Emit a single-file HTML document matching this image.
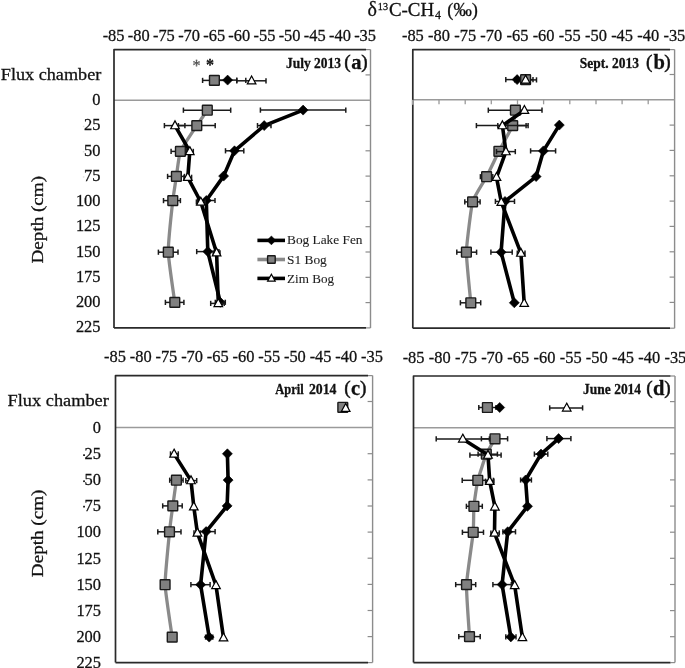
<!DOCTYPE html>
<html><head><meta charset="utf-8"><style>
html,body{margin:0;padding:0;background:#fff;}
body{width:685px;height:668px;overflow:hidden;}
svg{display:block;will-change:transform;}
text{font-family:"Liberation Serif", serif;fill:#111;stroke:#111;stroke-width:0.28px;}
.tk{font-size:16.4px;}
.fc{font-size:17.6px;}
.yt{font-size:17px;}
.ti{font-size:18px;}
.pt{font-size:14px;font-weight:bold;}
.pl{font-size:20.5px;font-weight:bold;}
.pp{font-size:19.3px;font-weight:normal;stroke-width:0.45px;}
.lg{font-size:13.2px;fill:#1e1e1e;stroke-width:0.1px;stroke:#1e1e1e;}
.ast{font-size:16px;font-weight:bold;}
</style></head><body>
<svg width="685" height="668" viewBox="0 0 685 668">
<rect width="100%" height="100%" fill="#fff"/>
<line x1="370.5" y1="49.6" x2="370.5" y2="327.9" stroke="#8c8c8c" stroke-width="1.4"/>
<line x1="366.0" y1="49.6" x2="370.5" y2="49.6" stroke="#8c8c8c" stroke-width="1.2"/>
<line x1="366.0" y1="327.9" x2="370.5" y2="327.9" stroke="#8c8c8c" stroke-width="1.2"/>
<line x1="114.0" y1="100.2" x2="370.5" y2="100.2" stroke="#9a9a9a" stroke-width="1.5"/>
<line x1="365.5" y1="74.9" x2="370.5" y2="74.9" stroke="#8c8c8c" stroke-width="1.2"/>
<line x1="365.5" y1="125.5" x2="370.5" y2="125.5" stroke="#8c8c8c" stroke-width="1.2"/>
<line x1="365.5" y1="150.8" x2="370.5" y2="150.8" stroke="#8c8c8c" stroke-width="1.2"/>
<line x1="365.5" y1="176.1" x2="370.5" y2="176.1" stroke="#8c8c8c" stroke-width="1.2"/>
<line x1="365.5" y1="201.4" x2="370.5" y2="201.4" stroke="#8c8c8c" stroke-width="1.2"/>
<line x1="365.5" y1="226.7" x2="370.5" y2="226.7" stroke="#8c8c8c" stroke-width="1.2"/>
<line x1="365.5" y1="252.0" x2="370.5" y2="252.0" stroke="#8c8c8c" stroke-width="1.2"/>
<line x1="365.5" y1="277.3" x2="370.5" y2="277.3" stroke="#8c8c8c" stroke-width="1.2"/>
<line x1="365.5" y1="302.6" x2="370.5" y2="302.6" stroke="#8c8c8c" stroke-width="1.2"/>
<path d="M114.0,327.9 L114.0,49.6 L366.0,49.6" fill="none" stroke="#2a2a2a" stroke-width="1.7" stroke-linejoin="round"/>
<line x1="114.0" y1="327.9" x2="366.0" y2="327.9" stroke="#2a2a2a" stroke-width="1.7"/>
<line x1="674.6" y1="49.6" x2="674.6" y2="328.2" stroke="#8c8c8c" stroke-width="1.4"/>
<line x1="670.0" y1="49.6" x2="674.6" y2="49.6" stroke="#8c8c8c" stroke-width="1.2"/>
<line x1="670.0" y1="328.2" x2="674.6" y2="328.2" stroke="#8c8c8c" stroke-width="1.2"/>
<line x1="412.8" y1="99.8" x2="674.6" y2="99.8" stroke="#9a9a9a" stroke-width="1.5"/>
<line x1="669.6" y1="74.5" x2="674.6" y2="74.5" stroke="#8c8c8c" stroke-width="1.2"/>
<line x1="669.6" y1="125.1" x2="674.6" y2="125.1" stroke="#8c8c8c" stroke-width="1.2"/>
<line x1="669.6" y1="150.4" x2="674.6" y2="150.4" stroke="#8c8c8c" stroke-width="1.2"/>
<line x1="669.6" y1="175.8" x2="674.6" y2="175.8" stroke="#8c8c8c" stroke-width="1.2"/>
<line x1="669.6" y1="201.1" x2="674.6" y2="201.1" stroke="#8c8c8c" stroke-width="1.2"/>
<line x1="669.6" y1="226.4" x2="674.6" y2="226.4" stroke="#8c8c8c" stroke-width="1.2"/>
<line x1="669.6" y1="251.8" x2="674.6" y2="251.8" stroke="#8c8c8c" stroke-width="1.2"/>
<line x1="669.6" y1="277.1" x2="674.6" y2="277.1" stroke="#8c8c8c" stroke-width="1.2"/>
<line x1="669.6" y1="302.4" x2="674.6" y2="302.4" stroke="#8c8c8c" stroke-width="1.2"/>
<line x1="439.0" y1="99.8" x2="439.0" y2="104.3" stroke="#9a9a9a" stroke-width="1.3"/>
<line x1="465.2" y1="99.8" x2="465.2" y2="104.3" stroke="#9a9a9a" stroke-width="1.3"/>
<line x1="491.3" y1="99.8" x2="491.3" y2="104.3" stroke="#9a9a9a" stroke-width="1.3"/>
<line x1="517.5" y1="99.8" x2="517.5" y2="104.3" stroke="#9a9a9a" stroke-width="1.3"/>
<line x1="543.6" y1="99.8" x2="543.6" y2="104.3" stroke="#9a9a9a" stroke-width="1.3"/>
<line x1="569.8" y1="99.8" x2="569.8" y2="104.3" stroke="#9a9a9a" stroke-width="1.3"/>
<line x1="596.0" y1="99.8" x2="596.0" y2="104.3" stroke="#9a9a9a" stroke-width="1.3"/>
<line x1="622.1" y1="99.8" x2="622.1" y2="104.3" stroke="#9a9a9a" stroke-width="1.3"/>
<line x1="648.2" y1="99.8" x2="648.2" y2="104.3" stroke="#9a9a9a" stroke-width="1.3"/>
<path d="M412.8,328.2 L412.8,49.6 L670.0,49.6" fill="none" stroke="#2a2a2a" stroke-width="1.7" stroke-linejoin="round"/>
<line x1="412.8" y1="328.2" x2="670.0" y2="328.2" stroke="#2a2a2a" stroke-width="1.7"/>
<line x1="412.8" y1="99.8" x2="412.8" y2="104.8" stroke="#a0a0a0" stroke-width="1.9"/>
<line x1="372.6" y1="375.6" x2="372.6" y2="662.6" stroke="#8c8c8c" stroke-width="1.4"/>
<line x1="368.0" y1="375.6" x2="372.6" y2="375.6" stroke="#8c8c8c" stroke-width="1.2"/>
<line x1="368.0" y1="662.6" x2="372.6" y2="662.6" stroke="#8c8c8c" stroke-width="1.2"/>
<line x1="115.5" y1="427.6" x2="372.6" y2="427.6" stroke="#9a9a9a" stroke-width="1.5"/>
<line x1="367.6" y1="401.5" x2="372.6" y2="401.5" stroke="#8c8c8c" stroke-width="1.2"/>
<line x1="367.6" y1="453.7" x2="372.6" y2="453.7" stroke="#8c8c8c" stroke-width="1.2"/>
<line x1="367.6" y1="479.9" x2="372.6" y2="479.9" stroke="#8c8c8c" stroke-width="1.2"/>
<line x1="367.6" y1="506.0" x2="372.6" y2="506.0" stroke="#8c8c8c" stroke-width="1.2"/>
<line x1="367.6" y1="532.1" x2="372.6" y2="532.1" stroke="#8c8c8c" stroke-width="1.2"/>
<line x1="367.6" y1="558.2" x2="372.6" y2="558.2" stroke="#8c8c8c" stroke-width="1.2"/>
<line x1="367.6" y1="584.4" x2="372.6" y2="584.4" stroke="#8c8c8c" stroke-width="1.2"/>
<line x1="367.6" y1="610.5" x2="372.6" y2="610.5" stroke="#8c8c8c" stroke-width="1.2"/>
<line x1="367.6" y1="636.6" x2="372.6" y2="636.6" stroke="#8c8c8c" stroke-width="1.2"/>
<path d="M115.5,662.6 L115.5,375.6 L368.0,375.6" fill="none" stroke="#2a2a2a" stroke-width="1.7" stroke-linejoin="round"/>
<line x1="115.5" y1="662.6" x2="368.0" y2="662.6" stroke="#2a2a2a" stroke-width="1.7"/>
<line x1="675.0" y1="376.0" x2="675.0" y2="662.6" stroke="#8c8c8c" stroke-width="1.4"/>
<line x1="670.5" y1="376.0" x2="675.0" y2="376.0" stroke="#8c8c8c" stroke-width="1.2"/>
<line x1="670.5" y1="662.6" x2="675.0" y2="662.6" stroke="#8c8c8c" stroke-width="1.2"/>
<line x1="413.5" y1="427.7" x2="675.0" y2="427.7" stroke="#9a9a9a" stroke-width="1.5"/>
<line x1="670.0" y1="401.6" x2="675.0" y2="401.6" stroke="#8c8c8c" stroke-width="1.2"/>
<line x1="670.0" y1="453.8" x2="675.0" y2="453.8" stroke="#8c8c8c" stroke-width="1.2"/>
<line x1="670.0" y1="479.9" x2="675.0" y2="479.9" stroke="#8c8c8c" stroke-width="1.2"/>
<line x1="670.0" y1="506.1" x2="675.0" y2="506.1" stroke="#8c8c8c" stroke-width="1.2"/>
<line x1="670.0" y1="532.2" x2="675.0" y2="532.2" stroke="#8c8c8c" stroke-width="1.2"/>
<line x1="670.0" y1="558.3" x2="675.0" y2="558.3" stroke="#8c8c8c" stroke-width="1.2"/>
<line x1="670.0" y1="584.5" x2="675.0" y2="584.5" stroke="#8c8c8c" stroke-width="1.2"/>
<line x1="670.0" y1="610.6" x2="675.0" y2="610.6" stroke="#8c8c8c" stroke-width="1.2"/>
<line x1="670.0" y1="636.7" x2="675.0" y2="636.7" stroke="#8c8c8c" stroke-width="1.2"/>
<path d="M413.5,662.6 L413.5,376.0 L670.5,376.0" fill="none" stroke="#2a2a2a" stroke-width="1.7" stroke-linejoin="round"/>
<line x1="413.5" y1="662.6" x2="670.5" y2="662.6" stroke="#2a2a2a" stroke-width="1.7"/>
<text x="113.6" y="41.0" text-anchor="middle" class="tk">-85</text>
<text x="138.8" y="41.0" text-anchor="middle" class="tk">-80</text>
<text x="163.9" y="41.0" text-anchor="middle" class="tk">-75</text>
<text x="189.1" y="41.0" text-anchor="middle" class="tk">-70</text>
<text x="214.2" y="41.0" text-anchor="middle" class="tk">-65</text>
<text x="239.3" y="41.0" text-anchor="middle" class="tk">-60</text>
<text x="264.5" y="41.0" text-anchor="middle" class="tk">-55</text>
<text x="289.6" y="41.0" text-anchor="middle" class="tk">-50</text>
<text x="314.8" y="41.0" text-anchor="middle" class="tk">-45</text>
<text x="340.0" y="41.0" text-anchor="middle" class="tk">-40</text>
<text x="365.1" y="41.0" text-anchor="middle" class="tk">-35</text>
<text x="412.9" y="41.0" text-anchor="middle" class="tk">-85</text>
<text x="439.0" y="41.0" text-anchor="middle" class="tk">-80</text>
<text x="465.2" y="41.0" text-anchor="middle" class="tk">-75</text>
<text x="491.3" y="41.0" text-anchor="middle" class="tk">-70</text>
<text x="517.5" y="41.0" text-anchor="middle" class="tk">-65</text>
<text x="543.6" y="41.0" text-anchor="middle" class="tk">-60</text>
<text x="569.8" y="41.0" text-anchor="middle" class="tk">-55</text>
<text x="596.0" y="41.0" text-anchor="middle" class="tk">-50</text>
<text x="622.1" y="41.0" text-anchor="middle" class="tk">-45</text>
<text x="648.2" y="41.0" text-anchor="middle" class="tk">-40</text>
<text x="674.4" y="41.0" text-anchor="middle" class="tk">-35</text>
<text x="115.0" y="362.0" text-anchor="middle" class="tk">-85</text>
<text x="140.7" y="362.0" text-anchor="middle" class="tk">-80</text>
<text x="166.4" y="362.0" text-anchor="middle" class="tk">-75</text>
<text x="192.1" y="362.0" text-anchor="middle" class="tk">-70</text>
<text x="217.8" y="362.0" text-anchor="middle" class="tk">-65</text>
<text x="243.5" y="362.0" text-anchor="middle" class="tk">-60</text>
<text x="269.2" y="362.0" text-anchor="middle" class="tk">-55</text>
<text x="294.9" y="362.0" text-anchor="middle" class="tk">-50</text>
<text x="320.6" y="362.0" text-anchor="middle" class="tk">-45</text>
<text x="346.3" y="362.0" text-anchor="middle" class="tk">-40</text>
<text x="372.0" y="362.0" text-anchor="middle" class="tk">-35</text>
<text x="413.6" y="362.6" text-anchor="middle" class="tk">-85</text>
<text x="439.8" y="362.6" text-anchor="middle" class="tk">-80</text>
<text x="466.0" y="362.6" text-anchor="middle" class="tk">-75</text>
<text x="492.1" y="362.6" text-anchor="middle" class="tk">-70</text>
<text x="518.3" y="362.6" text-anchor="middle" class="tk">-65</text>
<text x="544.5" y="362.6" text-anchor="middle" class="tk">-60</text>
<text x="570.7" y="362.6" text-anchor="middle" class="tk">-55</text>
<text x="596.8" y="362.6" text-anchor="middle" class="tk">-50</text>
<text x="623.0" y="362.6" text-anchor="middle" class="tk">-45</text>
<text x="649.2" y="362.6" text-anchor="middle" class="tk">-40</text>
<text x="675.4" y="362.6" text-anchor="middle" class="tk">-35</text>
<text x="100.5" y="105.0" text-anchor="end" class="tk">0</text>
<text x="100.5" y="130.3" text-anchor="end" class="tk">25</text>
<text x="100.5" y="155.5" text-anchor="end" class="tk">50</text>
<text x="100.5" y="180.8" text-anchor="end" class="tk">75</text>
<text x="100.5" y="206.1" text-anchor="end" class="tk">100</text>
<text x="100.5" y="231.3" text-anchor="end" class="tk">125</text>
<text x="100.5" y="256.6" text-anchor="end" class="tk">150</text>
<text x="100.5" y="281.9" text-anchor="end" class="tk">175</text>
<text x="100.5" y="307.1" text-anchor="end" class="tk">200</text>
<text x="100.5" y="332.4" text-anchor="end" class="tk">225</text>
<text x="0.8" y="80.3" class="fc" textLength="100.5" lengthAdjust="spacingAndGlyphs" xml:space="preserve">Flux chamber</text>
<text x="101.0" y="432.9" text-anchor="end" class="tk">0</text>
<text x="101.0" y="459.0" text-anchor="end" class="tk">25</text>
<text x="101.0" y="485.1" text-anchor="end" class="tk">50</text>
<text x="101.0" y="511.3" text-anchor="end" class="tk">75</text>
<text x="101.0" y="537.4" text-anchor="end" class="tk">100</text>
<text x="101.0" y="563.5" text-anchor="end" class="tk">125</text>
<text x="101.0" y="589.6" text-anchor="end" class="tk">150</text>
<text x="101.0" y="615.8" text-anchor="end" class="tk">175</text>
<text x="101.0" y="641.9" text-anchor="end" class="tk">200</text>
<text x="101.0" y="668.0" text-anchor="end" class="tk">225</text>
<text x="7.6" y="406.0" class="fc" textLength="101.2" lengthAdjust="spacingAndGlyphs" xml:space="preserve">Flux chamber</text>
<rect x="83.1" y="454.3" width="1.9" height="1.7" fill="#222"/>
<rect x="83.1" y="480.4" width="1.9" height="1.7" fill="#222"/>
<rect x="83.1" y="505.8" width="1.9" height="1.7" fill="#222"/>
<rect x="82.8" y="125.7" width="1.6" height="1.5" fill="#e0e0e0"/>
<rect x="82.8" y="151.0" width="1.6" height="1.5" fill="#e0e0e0"/>
<rect x="82.8" y="176.2" width="1.6" height="1.5" fill="#e0e0e0"/>
<text transform="translate(43.3,219.7) rotate(-90)" text-anchor="middle" class="yt" textLength="87.5" lengthAdjust="spacingAndGlyphs">Depth (cm)</text>
<text transform="translate(43.3,533.4) rotate(-90)" text-anchor="middle" class="yt" textLength="87.5" lengthAdjust="spacingAndGlyphs">Depth (cm)</text>
<text x="367.4" y="15.7" class="ti" style="font-size:20px" xml:space="preserve">δ</text>
<text x="377.8" y="10.0" class="ti" style="font-size:10.2px" xml:space="preserve">13</text>
<text x="388.9" y="15.7" class="ti" textLength="45.2" lengthAdjust="spacingAndGlyphs" xml:space="preserve">C-CH</text>
<text x="435.0" y="19.1" class="ti" style="font-size:12px" xml:space="preserve">4</text>
<text x="447.3" y="15.7" class="ti" textLength="30.6" lengthAdjust="spacingAndGlyphs" xml:space="preserve">(‰)</text>
<text x="286.0" y="67.7" class="pt" textLength="55.0" lengthAdjust="spacingAndGlyphs" xml:space="preserve">July 2013</text>
<text x="579.8" y="68.0" class="pt" textLength="59.2" lengthAdjust="spacingAndGlyphs" xml:space="preserve">Sept. 2013</text>
<text x="275.3" y="394.1" class="pt" textLength="28.3" lengthAdjust="spacingAndGlyphs" xml:space="preserve">April</text>
<text x="308.9" y="394.1" class="pt" textLength="27.6" lengthAdjust="spacingAndGlyphs" xml:space="preserve">2014</text>
<text x="583.1" y="394.0" class="pt" textLength="58.0" lengthAdjust="spacingAndGlyphs" xml:space="preserve">June 2014</text>
<text x="344.2" y="67.6" class="pp" xml:space="preserve">(</text>
<text x="351.2" y="68.6" class="pl" xml:space="preserve">a</text>
<text x="361.3" y="67.6" class="pp" xml:space="preserve">)</text>
<text x="646.0" y="67.6" class="pp" xml:space="preserve">(</text>
<text x="653.6" y="68.9" class="pl" xml:space="preserve">b</text>
<text x="664.3" y="67.6" class="pp" xml:space="preserve">)</text>
<text x="344.2" y="393.8" class="pp" xml:space="preserve">(</text>
<text x="350.9" y="395.0" class="pl" xml:space="preserve">c</text>
<text x="359.9" y="393.8" class="pp" xml:space="preserve">)</text>
<text x="646.3" y="393.8" class="pp" xml:space="preserve">(</text>
<text x="653.0" y="395.0" class="pl" xml:space="preserve">d</text>
<text x="664.3" y="393.8" class="pp" xml:space="preserve">)</text>
<text x="196.5" y="70.5" class="ast" text-anchor="middle" style="fill:#8f8f8f;font-weight:normal" xml:space="preserve">*</text>
<text x="209.9" y="69.5" class="ast" text-anchor="middle" style="fill:#111" xml:space="preserve">*</text>
<path d="M303.1,110.1 L264.2,125.6 L234.5,150.8 L223.6,176.1 L206.3,200.5 L207.8,251.6 L220.3,302.3" fill="none" stroke="#000" stroke-width="3.6" stroke-linejoin="round" stroke-linecap="butt"/>
<line x1="260.4" y1="110.1" x2="345.8" y2="110.1" stroke="#1a1a1a" stroke-width="1.5"/><line x1="260.4" y1="107.5" x2="260.4" y2="112.7" stroke="#1a1a1a" stroke-width="1.5"/><line x1="345.8" y1="107.5" x2="345.8" y2="112.7" stroke="#1a1a1a" stroke-width="1.5"/>
<line x1="257.5" y1="125.6" x2="271.0" y2="125.6" stroke="#1a1a1a" stroke-width="1.5"/><line x1="257.5" y1="123.0" x2="257.5" y2="128.2" stroke="#1a1a1a" stroke-width="1.5"/><line x1="271.0" y1="123.0" x2="271.0" y2="128.2" stroke="#1a1a1a" stroke-width="1.5"/>
<line x1="225.5" y1="150.8" x2="243.8" y2="150.8" stroke="#1a1a1a" stroke-width="1.5"/><line x1="225.5" y1="148.2" x2="225.5" y2="153.4" stroke="#1a1a1a" stroke-width="1.5"/><line x1="243.8" y1="148.2" x2="243.8" y2="153.4" stroke="#1a1a1a" stroke-width="1.5"/>
<line x1="197.6" y1="200.5" x2="215.0" y2="200.5" stroke="#1a1a1a" stroke-width="1.5"/><line x1="197.6" y1="197.9" x2="197.6" y2="203.1" stroke="#1a1a1a" stroke-width="1.5"/><line x1="215.0" y1="197.9" x2="215.0" y2="203.1" stroke="#1a1a1a" stroke-width="1.5"/>
<line x1="196.7" y1="251.6" x2="218.9" y2="251.6" stroke="#1a1a1a" stroke-width="1.5"/><line x1="196.7" y1="249.0" x2="196.7" y2="254.2" stroke="#1a1a1a" stroke-width="1.5"/><line x1="218.9" y1="249.0" x2="218.9" y2="254.2" stroke="#1a1a1a" stroke-width="1.5"/>
<line x1="215.3" y1="302.3" x2="225.3" y2="302.3" stroke="#1a1a1a" stroke-width="1.5"/><line x1="215.3" y1="299.7" x2="215.3" y2="304.9" stroke="#1a1a1a" stroke-width="1.5"/><line x1="225.3" y1="299.7" x2="225.3" y2="304.9" stroke="#1a1a1a" stroke-width="1.5"/>
<path d="M303.1,105.1 L308.1,110.1 L303.1,115.1 L298.1,110.1 Z" fill="#000" stroke="#000" stroke-width="0.6"/>
<path d="M264.2,120.6 L269.2,125.6 L264.2,130.6 L259.2,125.6 Z" fill="#000" stroke="#000" stroke-width="0.6"/>
<path d="M234.5,145.8 L239.5,150.8 L234.5,155.8 L229.5,150.8 Z" fill="#000" stroke="#000" stroke-width="0.6"/>
<path d="M223.6,171.1 L228.6,176.1 L223.6,181.1 L218.6,176.1 Z" fill="#000" stroke="#000" stroke-width="0.6"/>
<path d="M206.3,195.5 L211.3,200.5 L206.3,205.5 L201.3,200.5 Z" fill="#000" stroke="#000" stroke-width="0.6"/>
<path d="M207.8,246.6 L212.8,251.6 L207.8,256.6 L202.8,251.6 Z" fill="#000" stroke="#000" stroke-width="0.6"/>
<path d="M220.3,297.3 L225.3,302.3 L220.3,307.3 L215.3,302.3 Z" fill="#000" stroke="#000" stroke-width="0.6"/>
<path d="M207.3,110.2 C206.6,111.3 198.7,122.7 196.8,125.6 C194.9,128.5 181.8,147.8 180.4,151.4 C179.0,155.0 176.9,173.0 176.4,176.4 C175.9,179.8 173.4,195.3 172.8,200.6 C172.2,205.9 168.2,245.1 168.3,252.2 C168.4,259.3 174.3,298.9 174.8,302.4" fill="none" stroke="#8a8a8a" stroke-width="3.3" stroke-linecap="butt"/>
<line x1="183.4" y1="110.2" x2="230.7" y2="110.2" stroke="#1a1a1a" stroke-width="1.5"/><line x1="183.4" y1="107.6" x2="183.4" y2="112.8" stroke="#1a1a1a" stroke-width="1.5"/><line x1="230.7" y1="107.6" x2="230.7" y2="112.8" stroke="#1a1a1a" stroke-width="1.5"/>
<line x1="178.4" y1="125.6" x2="215.2" y2="125.6" stroke="#1a1a1a" stroke-width="1.5"/><line x1="178.4" y1="123.0" x2="178.4" y2="128.2" stroke="#1a1a1a" stroke-width="1.5"/><line x1="215.2" y1="123.0" x2="215.2" y2="128.2" stroke="#1a1a1a" stroke-width="1.5"/>
<line x1="171.1" y1="151.4" x2="189.7" y2="151.4" stroke="#1a1a1a" stroke-width="1.5"/><line x1="171.1" y1="148.8" x2="171.1" y2="154.0" stroke="#1a1a1a" stroke-width="1.5"/><line x1="189.7" y1="148.8" x2="189.7" y2="154.0" stroke="#1a1a1a" stroke-width="1.5"/>
<line x1="167.6" y1="176.4" x2="184.5" y2="176.4" stroke="#1a1a1a" stroke-width="1.5"/><line x1="167.6" y1="173.8" x2="167.6" y2="179.0" stroke="#1a1a1a" stroke-width="1.5"/><line x1="184.5" y1="173.8" x2="184.5" y2="179.0" stroke="#1a1a1a" stroke-width="1.5"/>
<line x1="163.5" y1="200.6" x2="180.4" y2="200.6" stroke="#1a1a1a" stroke-width="1.5"/><line x1="163.5" y1="198.0" x2="163.5" y2="203.2" stroke="#1a1a1a" stroke-width="1.5"/><line x1="180.4" y1="198.0" x2="180.4" y2="203.2" stroke="#1a1a1a" stroke-width="1.5"/>
<line x1="158.4" y1="252.2" x2="178.0" y2="252.2" stroke="#1a1a1a" stroke-width="1.5"/><line x1="158.4" y1="249.6" x2="158.4" y2="254.8" stroke="#1a1a1a" stroke-width="1.5"/><line x1="178.0" y1="249.6" x2="178.0" y2="254.8" stroke="#1a1a1a" stroke-width="1.5"/>
<line x1="165.4" y1="302.4" x2="183.9" y2="302.4" stroke="#1a1a1a" stroke-width="1.5"/><line x1="165.4" y1="299.8" x2="165.4" y2="305.0" stroke="#1a1a1a" stroke-width="1.5"/><line x1="183.9" y1="299.8" x2="183.9" y2="305.0" stroke="#1a1a1a" stroke-width="1.5"/>
<rect x="202.4" y="105.3" width="9.8" height="9.8" rx="0.5" fill="#808080" stroke="#1a1a1a" stroke-width="1.4"/>
<rect x="191.9" y="120.7" width="9.8" height="9.8" rx="0.5" fill="#808080" stroke="#1a1a1a" stroke-width="1.4"/>
<rect x="175.5" y="146.5" width="9.8" height="9.8" rx="0.5" fill="#808080" stroke="#1a1a1a" stroke-width="1.4"/>
<rect x="171.5" y="171.5" width="9.8" height="9.8" rx="0.5" fill="#808080" stroke="#1a1a1a" stroke-width="1.4"/>
<rect x="167.9" y="195.7" width="9.8" height="9.8" rx="0.5" fill="#808080" stroke="#1a1a1a" stroke-width="1.4"/>
<rect x="163.4" y="247.3" width="9.8" height="9.8" rx="0.5" fill="#808080" stroke="#1a1a1a" stroke-width="1.4"/>
<rect x="169.9" y="297.5" width="9.8" height="9.8" rx="0.5" fill="#808080" stroke="#1a1a1a" stroke-width="1.4"/>
<path d="M175.0,125.6 L189.8,151.4 L187.8,177.3 L200.8,202.0 L216.6,252.8 L218.3,303.4" fill="none" stroke="#000" stroke-width="3.6" stroke-linejoin="round" stroke-linecap="butt"/>
<line x1="164.4" y1="125.6" x2="184.9" y2="125.6" stroke="#1a1a1a" stroke-width="1.5"/><line x1="164.4" y1="123.0" x2="164.4" y2="128.2" stroke="#1a1a1a" stroke-width="1.5"/><line x1="184.9" y1="123.0" x2="184.9" y2="128.2" stroke="#1a1a1a" stroke-width="1.5"/>
<line x1="186.4" y1="151.4" x2="193.3" y2="151.4" stroke="#1a1a1a" stroke-width="1.5"/><line x1="186.4" y1="148.8" x2="186.4" y2="154.0" stroke="#1a1a1a" stroke-width="1.5"/><line x1="193.3" y1="148.8" x2="193.3" y2="154.0" stroke="#1a1a1a" stroke-width="1.5"/>
<line x1="184.0" y1="177.3" x2="191.6" y2="177.3" stroke="#1a1a1a" stroke-width="1.5"/><line x1="184.0" y1="174.7" x2="184.0" y2="179.9" stroke="#1a1a1a" stroke-width="1.5"/><line x1="191.6" y1="174.7" x2="191.6" y2="179.9" stroke="#1a1a1a" stroke-width="1.5"/>
<line x1="196.4" y1="202.0" x2="205.2" y2="202.0" stroke="#1a1a1a" stroke-width="1.5"/><line x1="196.4" y1="199.4" x2="196.4" y2="204.6" stroke="#1a1a1a" stroke-width="1.5"/><line x1="205.2" y1="199.4" x2="205.2" y2="204.6" stroke="#1a1a1a" stroke-width="1.5"/>
<line x1="213.2" y1="252.8" x2="220.0" y2="252.8" stroke="#1a1a1a" stroke-width="1.5"/><line x1="213.2" y1="250.2" x2="213.2" y2="255.4" stroke="#1a1a1a" stroke-width="1.5"/><line x1="220.0" y1="250.2" x2="220.0" y2="255.4" stroke="#1a1a1a" stroke-width="1.5"/>
<line x1="210.7" y1="303.4" x2="224.2" y2="303.4" stroke="#1a1a1a" stroke-width="1.5"/><line x1="210.7" y1="300.8" x2="210.7" y2="306.0" stroke="#1a1a1a" stroke-width="1.5"/><line x1="224.2" y1="300.8" x2="224.2" y2="306.0" stroke="#1a1a1a" stroke-width="1.5"/>
<path d="M175.0,120.86 L179.30,128.76 L170.70,128.76 Z" fill="#fff" stroke="#000" stroke-width="1.2" stroke-linejoin="miter"/>
<path d="M189.8,146.66 L194.10,154.56 L185.50,154.56 Z" fill="#fff" stroke="#000" stroke-width="1.2" stroke-linejoin="miter"/>
<path d="M187.8,172.56 L192.10,180.46 L183.50,180.46 Z" fill="#fff" stroke="#000" stroke-width="1.2" stroke-linejoin="miter"/>
<path d="M200.8,197.26 L205.10,205.16 L196.50,205.16 Z" fill="#fff" stroke="#000" stroke-width="1.2" stroke-linejoin="miter"/>
<path d="M216.6,248.06 L220.90,255.96 L212.30,255.96 Z" fill="#fff" stroke="#000" stroke-width="1.2" stroke-linejoin="miter"/>
<path d="M218.3,298.66 L222.60,306.56 L214.00,306.56 Z" fill="#fff" stroke="#000" stroke-width="1.2" stroke-linejoin="miter"/>
<line x1="218.4" y1="80.1" x2="236.8" y2="80.1" stroke="#1a1a1a" stroke-width="1.5"/><line x1="218.4" y1="77.5" x2="218.4" y2="82.7" stroke="#1a1a1a" stroke-width="1.5"/><line x1="236.8" y1="77.5" x2="236.8" y2="82.7" stroke="#1a1a1a" stroke-width="1.5"/>
<line x1="202.6" y1="80.4" x2="226.2" y2="80.4" stroke="#1a1a1a" stroke-width="1.5"/><line x1="202.6" y1="77.8" x2="202.6" y2="83.0" stroke="#1a1a1a" stroke-width="1.5"/><line x1="226.2" y1="77.8" x2="226.2" y2="83.0" stroke="#1a1a1a" stroke-width="1.5"/>
<line x1="236.8" y1="80.8" x2="266.0" y2="80.8" stroke="#1a1a1a" stroke-width="1.5"/><line x1="236.8" y1="78.2" x2="236.8" y2="83.4" stroke="#1a1a1a" stroke-width="1.5"/><line x1="266.0" y1="78.2" x2="266.0" y2="83.4" stroke="#1a1a1a" stroke-width="1.5"/>
<path d="M227.6,75.1 L232.6,80.1 L227.6,85.1 L222.6,80.1 Z" fill="#000" stroke="#000" stroke-width="0.6"/>
<rect x="209.5" y="75.5" width="9.8" height="9.8" rx="0.5" fill="#808080" stroke="#1a1a1a" stroke-width="1.4"/>
<path d="M251.6,76.06 L255.90,83.96 L247.30,83.96 Z" fill="#fff" stroke="#000" stroke-width="1.2" stroke-linejoin="miter"/>
<line x1="245.8" y1="77.7" x2="245.8" y2="82.89999999999999" stroke="#1a1a1a" stroke-width="1.5"/>
<path d="M559.3,125.1 L543.4,150.9 L536.1,176.6 L505.0,201.4 L501.1,252.2 L514.3,302.8" fill="none" stroke="#000" stroke-width="3.6" stroke-linejoin="round" stroke-linecap="butt"/>
<line x1="530.6" y1="150.9" x2="555.6" y2="150.9" stroke="#1a1a1a" stroke-width="1.5"/><line x1="530.6" y1="148.3" x2="530.6" y2="153.5" stroke="#1a1a1a" stroke-width="1.5"/><line x1="555.6" y1="148.3" x2="555.6" y2="153.5" stroke="#1a1a1a" stroke-width="1.5"/>
<line x1="495.4" y1="201.4" x2="514.5" y2="201.4" stroke="#1a1a1a" stroke-width="1.5"/><line x1="495.4" y1="198.8" x2="495.4" y2="204.0" stroke="#1a1a1a" stroke-width="1.5"/><line x1="514.5" y1="198.8" x2="514.5" y2="204.0" stroke="#1a1a1a" stroke-width="1.5"/>
<line x1="490.9" y1="252.2" x2="512.2" y2="252.2" stroke="#1a1a1a" stroke-width="1.5"/><line x1="490.9" y1="249.6" x2="490.9" y2="254.8" stroke="#1a1a1a" stroke-width="1.5"/><line x1="512.2" y1="249.6" x2="512.2" y2="254.8" stroke="#1a1a1a" stroke-width="1.5"/>
<path d="M559.3,120.1 L564.3,125.1 L559.3,130.1 L554.3,125.1 Z" fill="#000" stroke="#000" stroke-width="0.6"/>
<path d="M543.4,145.9 L548.4,150.9 L543.4,155.9 L538.4,150.9 Z" fill="#000" stroke="#000" stroke-width="0.6"/>
<path d="M536.1,171.6 L541.1,176.6 L536.1,181.6 L531.1,176.6 Z" fill="#000" stroke="#000" stroke-width="0.6"/>
<path d="M505.0,196.4 L510.0,201.4 L505.0,206.4 L500.0,201.4 Z" fill="#000" stroke="#000" stroke-width="0.6"/>
<path d="M501.1,247.2 L506.1,252.2 L501.1,257.2 L496.1,252.2 Z" fill="#000" stroke="#000" stroke-width="0.6"/>
<path d="M514.3,297.8 L519.3,302.8 L514.3,307.8 L509.3,302.8 Z" fill="#000" stroke="#000" stroke-width="0.6"/>
<path d="M515.4,110.2 C515.2,111.3 513.9,122.7 512.7,125.6 C511.5,128.5 500.7,147.7 498.9,151.3 C497.1,154.9 488.4,173.2 486.6,176.7 C484.8,180.2 474.0,196.6 472.6,201.9 C471.2,207.2 466.5,245.1 466.4,252.2 C466.3,259.3 470.5,299.3 470.8,302.8" fill="none" stroke="#8a8a8a" stroke-width="3.3" stroke-linecap="butt"/>
<line x1="488.3" y1="110.2" x2="542.0" y2="110.2" stroke="#1a1a1a" stroke-width="1.5"/><line x1="488.3" y1="107.6" x2="488.3" y2="112.8" stroke="#1a1a1a" stroke-width="1.5"/><line x1="542.0" y1="107.6" x2="542.0" y2="112.8" stroke="#1a1a1a" stroke-width="1.5"/>
<line x1="497.8" y1="125.6" x2="526.1" y2="125.6" stroke="#1a1a1a" stroke-width="1.5"/><line x1="497.8" y1="123.0" x2="497.8" y2="128.2" stroke="#1a1a1a" stroke-width="1.5"/><line x1="526.1" y1="123.0" x2="526.1" y2="128.2" stroke="#1a1a1a" stroke-width="1.5"/>
<line x1="480.4" y1="176.7" x2="492.8" y2="176.7" stroke="#1a1a1a" stroke-width="1.5"/><line x1="480.4" y1="174.1" x2="480.4" y2="179.3" stroke="#1a1a1a" stroke-width="1.5"/><line x1="492.8" y1="174.1" x2="492.8" y2="179.3" stroke="#1a1a1a" stroke-width="1.5"/>
<line x1="464.8" y1="201.9" x2="480.1" y2="201.9" stroke="#1a1a1a" stroke-width="1.5"/><line x1="464.8" y1="199.3" x2="464.8" y2="204.5" stroke="#1a1a1a" stroke-width="1.5"/><line x1="480.1" y1="199.3" x2="480.1" y2="204.5" stroke="#1a1a1a" stroke-width="1.5"/>
<line x1="456.8" y1="252.2" x2="476.6" y2="252.2" stroke="#1a1a1a" stroke-width="1.5"/><line x1="456.8" y1="249.6" x2="456.8" y2="254.8" stroke="#1a1a1a" stroke-width="1.5"/><line x1="476.6" y1="249.6" x2="476.6" y2="254.8" stroke="#1a1a1a" stroke-width="1.5"/>
<line x1="460.4" y1="302.8" x2="480.7" y2="302.8" stroke="#1a1a1a" stroke-width="1.5"/><line x1="460.4" y1="300.2" x2="460.4" y2="305.4" stroke="#1a1a1a" stroke-width="1.5"/><line x1="480.7" y1="300.2" x2="480.7" y2="305.4" stroke="#1a1a1a" stroke-width="1.5"/>
<rect x="510.5" y="105.3" width="9.8" height="9.8" rx="0.5" fill="#808080" stroke="#1a1a1a" stroke-width="1.4"/>
<rect x="507.8" y="120.7" width="9.8" height="9.8" rx="0.5" fill="#808080" stroke="#1a1a1a" stroke-width="1.4"/>
<rect x="494.0" y="146.4" width="9.8" height="9.8" rx="0.5" fill="#808080" stroke="#1a1a1a" stroke-width="1.4"/>
<rect x="481.7" y="171.8" width="9.8" height="9.8" rx="0.5" fill="#808080" stroke="#1a1a1a" stroke-width="1.4"/>
<rect x="467.7" y="197.0" width="9.8" height="9.8" rx="0.5" fill="#808080" stroke="#1a1a1a" stroke-width="1.4"/>
<rect x="461.5" y="247.3" width="9.8" height="9.8" rx="0.5" fill="#808080" stroke="#1a1a1a" stroke-width="1.4"/>
<rect x="465.9" y="297.9" width="9.8" height="9.8" rx="0.5" fill="#808080" stroke="#1a1a1a" stroke-width="1.4"/>
<path d="M524.4,110.2 L502.4,125.6 L505.9,151.6 L496.5,177.3 L501.3,202.2 L520.9,253.1 L524.2,303.3" fill="none" stroke="#000" stroke-width="3.6" stroke-linejoin="round" stroke-linecap="butt"/>
<line x1="476.4" y1="125.6" x2="528.1" y2="125.6" stroke="#1a1a1a" stroke-width="1.5"/><line x1="476.4" y1="123.0" x2="476.4" y2="128.2" stroke="#1a1a1a" stroke-width="1.5"/><line x1="528.1" y1="123.0" x2="528.1" y2="128.2" stroke="#1a1a1a" stroke-width="1.5"/>
<line x1="496.5" y1="151.6" x2="515.3" y2="151.6" stroke="#1a1a1a" stroke-width="1.5"/><line x1="496.5" y1="149.0" x2="496.5" y2="154.2" stroke="#1a1a1a" stroke-width="1.5"/><line x1="515.3" y1="149.0" x2="515.3" y2="154.2" stroke="#1a1a1a" stroke-width="1.5"/>
<line x1="517.3" y1="253.1" x2="525.0" y2="253.1" stroke="#1a1a1a" stroke-width="1.5"/><line x1="517.3" y1="250.5" x2="517.3" y2="255.7" stroke="#1a1a1a" stroke-width="1.5"/><line x1="525.0" y1="250.5" x2="525.0" y2="255.7" stroke="#1a1a1a" stroke-width="1.5"/>
<path d="M524.4,105.46 L528.70,113.36 L520.10,113.36 Z" fill="#fff" stroke="#000" stroke-width="1.2" stroke-linejoin="miter"/>
<path d="M502.4,120.86 L506.70,128.76 L498.10,128.76 Z" fill="#fff" stroke="#000" stroke-width="1.2" stroke-linejoin="miter"/>
<path d="M505.9,146.86 L510.20,154.76 L501.60,154.76 Z" fill="#fff" stroke="#000" stroke-width="1.2" stroke-linejoin="miter"/>
<path d="M496.5,172.56 L500.80,180.46 L492.20,180.46 Z" fill="#fff" stroke="#000" stroke-width="1.2" stroke-linejoin="miter"/>
<path d="M501.3,197.46 L505.60,205.36 L497.00,205.36 Z" fill="#fff" stroke="#000" stroke-width="1.2" stroke-linejoin="miter"/>
<path d="M520.9,248.36 L525.20,256.26 L516.60,256.26 Z" fill="#fff" stroke="#000" stroke-width="1.2" stroke-linejoin="miter"/>
<path d="M524.2,298.56 L528.50,306.46 L519.90,306.46 Z" fill="#fff" stroke="#000" stroke-width="1.2" stroke-linejoin="miter"/>
<line x1="505.8" y1="79.6" x2="528.4" y2="79.6" stroke="#1a1a1a" stroke-width="1.5"/><line x1="505.8" y1="77.0" x2="505.8" y2="82.2" stroke="#1a1a1a" stroke-width="1.5"/><line x1="528.4" y1="77.0" x2="528.4" y2="82.2" stroke="#1a1a1a" stroke-width="1.5"/>
<line x1="518.2" y1="79.6" x2="533.0" y2="79.6" stroke="#1a1a1a" stroke-width="1.5"/><line x1="518.2" y1="77.0" x2="518.2" y2="82.2" stroke="#1a1a1a" stroke-width="1.5"/><line x1="533.0" y1="77.0" x2="533.0" y2="82.2" stroke="#1a1a1a" stroke-width="1.5"/>
<line x1="514.7" y1="79.9" x2="536.5" y2="79.9" stroke="#1a1a1a" stroke-width="1.5"/><line x1="514.7" y1="77.3" x2="514.7" y2="82.5" stroke="#1a1a1a" stroke-width="1.5"/><line x1="536.5" y1="77.3" x2="536.5" y2="82.5" stroke="#1a1a1a" stroke-width="1.5"/>
<path d="M517.1,74.6 L522.1,79.6 L517.1,84.6 L512.1,79.6 Z" fill="#000" stroke="#000" stroke-width="0.6"/>
<rect x="520.7" y="74.7" width="9.8" height="9.8" rx="0.5" fill="#808080" stroke="#1a1a1a" stroke-width="1.4"/>
<path d="M525.6,75.16 L529.90,83.06 L521.30,83.06 Z" fill="#fff" stroke="#000" stroke-width="1.2" stroke-linejoin="miter"/>
<path d="M227.4,453.8 L228.1,480.1 L227.1,505.9 L206.1,531.6 L200.6,584.7 L209.2,637.1" fill="none" stroke="#000" stroke-width="3.6" stroke-linejoin="round" stroke-linecap="butt"/>
<line x1="197.1" y1="531.6" x2="215.1" y2="531.6" stroke="#1a1a1a" stroke-width="1.5"/><line x1="197.1" y1="529.0" x2="197.1" y2="534.2" stroke="#1a1a1a" stroke-width="1.5"/><line x1="215.1" y1="529.0" x2="215.1" y2="534.2" stroke="#1a1a1a" stroke-width="1.5"/>
<line x1="190.9" y1="584.7" x2="210.1" y2="584.7" stroke="#1a1a1a" stroke-width="1.5"/><line x1="190.9" y1="582.1" x2="190.9" y2="587.3" stroke="#1a1a1a" stroke-width="1.5"/><line x1="210.1" y1="582.1" x2="210.1" y2="587.3" stroke="#1a1a1a" stroke-width="1.5"/>
<line x1="205.6" y1="637.1" x2="212.8" y2="637.1" stroke="#1a1a1a" stroke-width="1.5"/><line x1="205.6" y1="634.5" x2="205.6" y2="639.7" stroke="#1a1a1a" stroke-width="1.5"/><line x1="212.8" y1="634.5" x2="212.8" y2="639.7" stroke="#1a1a1a" stroke-width="1.5"/>
<path d="M227.4,448.8 L232.4,453.8 L227.4,458.8 L222.4,453.8 Z" fill="#000" stroke="#000" stroke-width="0.6"/>
<path d="M228.1,475.1 L233.1,480.1 L228.1,485.1 L223.1,480.1 Z" fill="#000" stroke="#000" stroke-width="0.6"/>
<path d="M227.1,500.9 L232.1,505.9 L227.1,510.9 L222.1,505.9 Z" fill="#000" stroke="#000" stroke-width="0.6"/>
<path d="M206.1,526.6 L211.1,531.6 L206.1,536.6 L201.1,531.6 Z" fill="#000" stroke="#000" stroke-width="0.6"/>
<path d="M200.6,579.7 L205.6,584.7 L200.6,589.7 L195.6,584.7 Z" fill="#000" stroke="#000" stroke-width="0.6"/>
<path d="M209.2,632.1 L214.2,637.1 L209.2,642.1 L204.2,637.1 Z" fill="#000" stroke="#000" stroke-width="0.6"/>
<path d="M176.4,480.2 C176.1,482.0 173.3,502.3 172.8,505.9 C172.3,509.5 170.0,526.3 169.5,531.8 C169.0,537.3 164.9,577.3 165.1,584.7 C165.3,592.1 171.7,633.4 172.2,637.1" fill="none" stroke="#8a8a8a" stroke-width="3.3" stroke-linecap="butt"/>
<line x1="169.7" y1="480.2" x2="183.1" y2="480.2" stroke="#1a1a1a" stroke-width="1.5"/><line x1="169.7" y1="477.6" x2="169.7" y2="482.8" stroke="#1a1a1a" stroke-width="1.5"/><line x1="183.1" y1="477.6" x2="183.1" y2="482.8" stroke="#1a1a1a" stroke-width="1.5"/>
<line x1="162.7" y1="505.9" x2="182.2" y2="505.9" stroke="#1a1a1a" stroke-width="1.5"/><line x1="162.7" y1="503.3" x2="162.7" y2="508.5" stroke="#1a1a1a" stroke-width="1.5"/><line x1="182.2" y1="503.3" x2="182.2" y2="508.5" stroke="#1a1a1a" stroke-width="1.5"/>
<line x1="157.8" y1="531.8" x2="181.0" y2="531.8" stroke="#1a1a1a" stroke-width="1.5"/><line x1="157.8" y1="529.2" x2="157.8" y2="534.4" stroke="#1a1a1a" stroke-width="1.5"/><line x1="181.0" y1="529.2" x2="181.0" y2="534.4" stroke="#1a1a1a" stroke-width="1.5"/>
<rect x="171.5" y="475.3" width="9.8" height="9.8" rx="0.5" fill="#808080" stroke="#1a1a1a" stroke-width="1.4"/>
<rect x="167.9" y="501.0" width="9.8" height="9.8" rx="0.5" fill="#808080" stroke="#1a1a1a" stroke-width="1.4"/>
<rect x="164.6" y="526.9" width="9.8" height="9.8" rx="0.5" fill="#808080" stroke="#1a1a1a" stroke-width="1.4"/>
<rect x="160.2" y="579.8" width="9.8" height="9.8" rx="0.5" fill="#808080" stroke="#1a1a1a" stroke-width="1.4"/>
<rect x="167.3" y="632.2" width="9.8" height="9.8" rx="0.5" fill="#808080" stroke="#1a1a1a" stroke-width="1.4"/>
<path d="M174.1,453.9 L191.0,480.6 L193.8,506.8 L197.4,532.9 L216.0,585.4 L223.5,637.8" fill="none" stroke="#000" stroke-width="3.6" stroke-linejoin="round" stroke-linecap="butt"/>
<line x1="170.5" y1="453.9" x2="178.3" y2="453.9" stroke="#1a1a1a" stroke-width="1.5"/><line x1="170.5" y1="451.3" x2="170.5" y2="456.5" stroke="#1a1a1a" stroke-width="1.5"/><line x1="178.3" y1="451.3" x2="178.3" y2="456.5" stroke="#1a1a1a" stroke-width="1.5"/>
<line x1="185.8" y1="480.6" x2="196.7" y2="480.6" stroke="#1a1a1a" stroke-width="1.5"/><line x1="185.8" y1="478.0" x2="185.8" y2="483.2" stroke="#1a1a1a" stroke-width="1.5"/><line x1="196.7" y1="478.0" x2="196.7" y2="483.2" stroke="#1a1a1a" stroke-width="1.5"/>
<line x1="194.0" y1="532.9" x2="200.3" y2="532.9" stroke="#1a1a1a" stroke-width="1.5"/><line x1="194.0" y1="530.3" x2="194.0" y2="535.5" stroke="#1a1a1a" stroke-width="1.5"/><line x1="200.3" y1="530.3" x2="200.3" y2="535.5" stroke="#1a1a1a" stroke-width="1.5"/>
<path d="M174.1,449.16 L178.40,457.06 L169.80,457.06 Z" fill="#fff" stroke="#000" stroke-width="1.2" stroke-linejoin="miter"/>
<path d="M191.0,475.86 L195.30,483.76 L186.70,483.76 Z" fill="#fff" stroke="#000" stroke-width="1.2" stroke-linejoin="miter"/>
<path d="M193.8,502.06 L198.10,509.96 L189.50,509.96 Z" fill="#fff" stroke="#000" stroke-width="1.2" stroke-linejoin="miter"/>
<path d="M197.4,528.16 L201.70,536.06 L193.10,536.06 Z" fill="#fff" stroke="#000" stroke-width="1.2" stroke-linejoin="miter"/>
<path d="M216.0,580.66 L220.30,588.56 L211.70,588.56 Z" fill="#fff" stroke="#000" stroke-width="1.2" stroke-linejoin="miter"/>
<path d="M223.5,633.06 L227.80,640.96 L219.20,640.96 Z" fill="#fff" stroke="#000" stroke-width="1.2" stroke-linejoin="miter"/>
<rect x="337.9" y="402.4" width="9.8" height="9.8" rx="0.5" fill="#808080" stroke="#1a1a1a" stroke-width="1.4"/>
<path d="M345.7,403.56 L350.00,411.46 L341.40,411.46 Z" fill="#fff" stroke="#000" stroke-width="1.2" stroke-linejoin="miter"/>
<path d="M558.6,438.6 L541.0,454.1 L525.6,480.0 L527.5,506.3 L507.7,531.8 L502.1,584.6 L510.8,636.9" fill="none" stroke="#000" stroke-width="3.6" stroke-linejoin="round" stroke-linecap="butt"/>
<line x1="546.9" y1="438.6" x2="570.9" y2="438.6" stroke="#1a1a1a" stroke-width="1.5"/><line x1="546.9" y1="436.0" x2="546.9" y2="441.2" stroke="#1a1a1a" stroke-width="1.5"/><line x1="570.9" y1="436.0" x2="570.9" y2="441.2" stroke="#1a1a1a" stroke-width="1.5"/>
<line x1="534.4" y1="454.1" x2="547.8" y2="454.1" stroke="#1a1a1a" stroke-width="1.5"/><line x1="534.4" y1="451.5" x2="534.4" y2="456.7" stroke="#1a1a1a" stroke-width="1.5"/><line x1="547.8" y1="451.5" x2="547.8" y2="456.7" stroke="#1a1a1a" stroke-width="1.5"/>
<line x1="520.6" y1="480.0" x2="531.4" y2="480.0" stroke="#1a1a1a" stroke-width="1.5"/><line x1="520.6" y1="477.4" x2="520.6" y2="482.6" stroke="#1a1a1a" stroke-width="1.5"/><line x1="531.4" y1="477.4" x2="531.4" y2="482.6" stroke="#1a1a1a" stroke-width="1.5"/>
<line x1="502.9" y1="531.8" x2="515.5" y2="531.8" stroke="#1a1a1a" stroke-width="1.5"/><line x1="502.9" y1="529.2" x2="502.9" y2="534.4" stroke="#1a1a1a" stroke-width="1.5"/><line x1="515.5" y1="529.2" x2="515.5" y2="534.4" stroke="#1a1a1a" stroke-width="1.5"/>
<line x1="492.9" y1="584.6" x2="511.3" y2="584.6" stroke="#1a1a1a" stroke-width="1.5"/><line x1="492.9" y1="582.0" x2="492.9" y2="587.2" stroke="#1a1a1a" stroke-width="1.5"/><line x1="511.3" y1="582.0" x2="511.3" y2="587.2" stroke="#1a1a1a" stroke-width="1.5"/>
<line x1="505.8" y1="636.9" x2="516.0" y2="636.9" stroke="#1a1a1a" stroke-width="1.5"/><line x1="505.8" y1="634.3" x2="505.8" y2="639.5" stroke="#1a1a1a" stroke-width="1.5"/><line x1="516.0" y1="634.3" x2="516.0" y2="639.5" stroke="#1a1a1a" stroke-width="1.5"/>
<path d="M558.6,433.6 L563.6,438.6 L558.6,443.6 L553.6,438.6 Z" fill="#000" stroke="#000" stroke-width="0.6"/>
<path d="M541.0,449.1 L546.0,454.1 L541.0,459.1 L536.0,454.1 Z" fill="#000" stroke="#000" stroke-width="0.6"/>
<path d="M525.6,475.0 L530.6,480.0 L525.6,485.0 L520.6,480.0 Z" fill="#000" stroke="#000" stroke-width="0.6"/>
<path d="M527.5,501.3 L532.5,506.3 L527.5,511.3 L522.5,506.3 Z" fill="#000" stroke="#000" stroke-width="0.6"/>
<path d="M507.7,526.8 L512.7,531.8 L507.7,536.8 L502.7,531.8 Z" fill="#000" stroke="#000" stroke-width="0.6"/>
<path d="M502.1,579.6 L507.1,584.6 L502.1,589.6 L497.1,584.6 Z" fill="#000" stroke="#000" stroke-width="0.6"/>
<path d="M510.8,631.9 L515.8,636.9 L510.8,641.9 L505.8,636.9 Z" fill="#000" stroke="#000" stroke-width="0.6"/>
<path d="M495.0,438.8 C494.4,439.9 487.5,451.3 486.3,454.2 C485.1,457.1 478.7,476.7 477.8,480.3 C476.9,483.9 474.2,502.7 473.9,506.3 C473.6,509.9 473.7,526.8 473.2,532.3 C472.7,537.8 466.8,577.3 466.5,584.6 C466.2,591.9 469.3,633.0 469.5,636.6" fill="none" stroke="#8a8a8a" stroke-width="3.3" stroke-linecap="butt"/>
<line x1="481.4" y1="438.8" x2="507.6" y2="438.8" stroke="#1a1a1a" stroke-width="1.5"/><line x1="481.4" y1="436.2" x2="481.4" y2="441.4" stroke="#1a1a1a" stroke-width="1.5"/><line x1="507.6" y1="436.2" x2="507.6" y2="441.4" stroke="#1a1a1a" stroke-width="1.5"/>
<line x1="478.1" y1="454.2" x2="497.4" y2="454.2" stroke="#1a1a1a" stroke-width="1.5"/><line x1="478.1" y1="451.6" x2="478.1" y2="456.8" stroke="#1a1a1a" stroke-width="1.5"/><line x1="497.4" y1="451.6" x2="497.4" y2="456.8" stroke="#1a1a1a" stroke-width="1.5"/>
<line x1="462.2" y1="480.3" x2="493.4" y2="480.3" stroke="#1a1a1a" stroke-width="1.5"/><line x1="462.2" y1="477.7" x2="462.2" y2="482.9" stroke="#1a1a1a" stroke-width="1.5"/><line x1="493.4" y1="477.7" x2="493.4" y2="482.9" stroke="#1a1a1a" stroke-width="1.5"/>
<line x1="466.4" y1="506.3" x2="482.3" y2="506.3" stroke="#1a1a1a" stroke-width="1.5"/><line x1="466.4" y1="503.7" x2="466.4" y2="508.9" stroke="#1a1a1a" stroke-width="1.5"/><line x1="482.3" y1="503.7" x2="482.3" y2="508.9" stroke="#1a1a1a" stroke-width="1.5"/>
<line x1="462.4" y1="532.3" x2="483.5" y2="532.3" stroke="#1a1a1a" stroke-width="1.5"/><line x1="462.4" y1="529.7" x2="462.4" y2="534.9" stroke="#1a1a1a" stroke-width="1.5"/><line x1="483.5" y1="529.7" x2="483.5" y2="534.9" stroke="#1a1a1a" stroke-width="1.5"/>
<line x1="455.7" y1="584.6" x2="475.7" y2="584.6" stroke="#1a1a1a" stroke-width="1.5"/><line x1="455.7" y1="582.0" x2="455.7" y2="587.2" stroke="#1a1a1a" stroke-width="1.5"/><line x1="475.7" y1="582.0" x2="475.7" y2="587.2" stroke="#1a1a1a" stroke-width="1.5"/>
<line x1="458.8" y1="636.6" x2="480.2" y2="636.6" stroke="#1a1a1a" stroke-width="1.5"/><line x1="458.8" y1="634.0" x2="458.8" y2="639.2" stroke="#1a1a1a" stroke-width="1.5"/><line x1="480.2" y1="634.0" x2="480.2" y2="639.2" stroke="#1a1a1a" stroke-width="1.5"/>
<rect x="490.1" y="433.9" width="9.8" height="9.8" rx="0.5" fill="#808080" stroke="#1a1a1a" stroke-width="1.4"/>
<rect x="481.4" y="449.3" width="9.8" height="9.8" rx="0.5" fill="#808080" stroke="#1a1a1a" stroke-width="1.4"/>
<rect x="472.9" y="475.4" width="9.8" height="9.8" rx="0.5" fill="#808080" stroke="#1a1a1a" stroke-width="1.4"/>
<rect x="469.0" y="501.4" width="9.8" height="9.8" rx="0.5" fill="#808080" stroke="#1a1a1a" stroke-width="1.4"/>
<rect x="468.3" y="527.4" width="9.8" height="9.8" rx="0.5" fill="#808080" stroke="#1a1a1a" stroke-width="1.4"/>
<rect x="461.6" y="579.7" width="9.8" height="9.8" rx="0.5" fill="#808080" stroke="#1a1a1a" stroke-width="1.4"/>
<rect x="464.6" y="631.7" width="9.8" height="9.8" rx="0.5" fill="#808080" stroke="#1a1a1a" stroke-width="1.4"/>
<path d="M462.8,438.9 L488.0,455.1 L489.7,481.2 L494.9,506.9 L494.5,533.0 L514.7,585.4 L522.4,637.5" fill="none" stroke="#000" stroke-width="3.6" stroke-linejoin="round" stroke-linecap="butt"/>
<line x1="436.2" y1="438.9" x2="489.4" y2="438.9" stroke="#1a1a1a" stroke-width="1.5"/><line x1="436.2" y1="436.3" x2="436.2" y2="441.5" stroke="#1a1a1a" stroke-width="1.5"/><line x1="489.4" y1="436.3" x2="489.4" y2="441.5" stroke="#1a1a1a" stroke-width="1.5"/>
<line x1="469.9" y1="455.1" x2="501.1" y2="455.1" stroke="#1a1a1a" stroke-width="1.5"/><line x1="469.9" y1="452.5" x2="469.9" y2="457.7" stroke="#1a1a1a" stroke-width="1.5"/><line x1="501.1" y1="452.5" x2="501.1" y2="457.7" stroke="#1a1a1a" stroke-width="1.5"/>
<line x1="485.5" y1="481.2" x2="493.9" y2="481.2" stroke="#1a1a1a" stroke-width="1.5"/><line x1="485.5" y1="478.6" x2="485.5" y2="483.8" stroke="#1a1a1a" stroke-width="1.5"/><line x1="493.9" y1="478.6" x2="493.9" y2="483.8" stroke="#1a1a1a" stroke-width="1.5"/>
<line x1="490.9" y1="533.0" x2="499.3" y2="533.0" stroke="#1a1a1a" stroke-width="1.5"/><line x1="490.9" y1="530.4" x2="490.9" y2="535.6" stroke="#1a1a1a" stroke-width="1.5"/><line x1="499.3" y1="530.4" x2="499.3" y2="535.6" stroke="#1a1a1a" stroke-width="1.5"/>
<path d="M462.8,434.16 L467.10,442.06 L458.50,442.06 Z" fill="#fff" stroke="#000" stroke-width="1.2" stroke-linejoin="miter"/>
<path d="M488.0,450.36 L492.30,458.26 L483.70,458.26 Z" fill="#fff" stroke="#000" stroke-width="1.2" stroke-linejoin="miter"/>
<path d="M489.7,476.46 L494.00,484.36 L485.40,484.36 Z" fill="#fff" stroke="#000" stroke-width="1.2" stroke-linejoin="miter"/>
<path d="M494.9,502.16 L499.20,510.06 L490.60,510.06 Z" fill="#fff" stroke="#000" stroke-width="1.2" stroke-linejoin="miter"/>
<path d="M494.5,528.26 L498.80,536.16 L490.20,536.16 Z" fill="#fff" stroke="#000" stroke-width="1.2" stroke-linejoin="miter"/>
<path d="M514.7,580.66 L519.00,588.56 L510.40,588.56 Z" fill="#fff" stroke="#000" stroke-width="1.2" stroke-linejoin="miter"/>
<path d="M522.4,632.76 L526.70,640.66 L518.10,640.66 Z" fill="#fff" stroke="#000" stroke-width="1.2" stroke-linejoin="miter"/>
<line x1="478.8" y1="407.5" x2="496.0" y2="407.5" stroke="#1a1a1a" stroke-width="1.5"/><line x1="478.8" y1="404.9" x2="478.8" y2="410.1" stroke="#1a1a1a" stroke-width="1.5"/><line x1="496.0" y1="404.9" x2="496.0" y2="410.1" stroke="#1a1a1a" stroke-width="1.5"/>
<line x1="549.7" y1="407.9" x2="582.6" y2="407.9" stroke="#1a1a1a" stroke-width="1.5"/><line x1="549.7" y1="405.3" x2="549.7" y2="410.5" stroke="#1a1a1a" stroke-width="1.5"/><line x1="582.6" y1="405.3" x2="582.6" y2="410.5" stroke="#1a1a1a" stroke-width="1.5"/>
<path d="M499.7,402.5 L504.7,407.5 L499.7,412.5 L494.7,407.5 Z" fill="#000" stroke="#000" stroke-width="0.6"/>
<rect x="482.5" y="402.6" width="9.8" height="9.8" rx="0.5" fill="#808080" stroke="#1a1a1a" stroke-width="1.4"/>
<path d="M566.7,403.16 L571.00,411.06 L562.40,411.06 Z" fill="#fff" stroke="#000" stroke-width="1.2" stroke-linejoin="miter"/>
<path d="M257.4,240.4 L285.0,240.4" fill="none" stroke="#000" stroke-width="3.6" stroke-linejoin="round" stroke-linecap="butt"/><path d="M271.4,236.0 L275.8,240.4 L271.4,244.8 L267.0,240.4 Z" fill="#000" stroke="#000" stroke-width="0.6"/>
<path d="M257.4,259.5 L285.0,259.5" fill="none" stroke="#8a8a8a" stroke-width="3.6" stroke-linejoin="round" stroke-linecap="butt"/><rect x="267.6" y="255.7" width="7.6" height="7.6" rx="0.5" fill="#808080" stroke="#1a1a1a" stroke-width="1.4"/>
<path d="M257.4,278.4 L285.0,278.4" fill="none" stroke="#000" stroke-width="3.6" stroke-linejoin="round" stroke-linecap="butt"/><path d="M271.4,274.32 L275.20,281.12 L267.60,281.12 Z" fill="#fff" stroke="#000" stroke-width="1.2" stroke-linejoin="miter"/>
<text x="287.0" y="244.2" class="lg" textLength="75.5" lengthAdjust="spacingAndGlyphs" xml:space="preserve">Bog Lake Fen</text>
<text x="287.0" y="263.5" class="lg" textLength="39.8" lengthAdjust="spacingAndGlyphs" xml:space="preserve">S1 Bog</text>
<text x="287.0" y="282.6" class="lg" textLength="47.0" lengthAdjust="spacingAndGlyphs" xml:space="preserve">Zim Bog</text>
</svg>
</body></html>
